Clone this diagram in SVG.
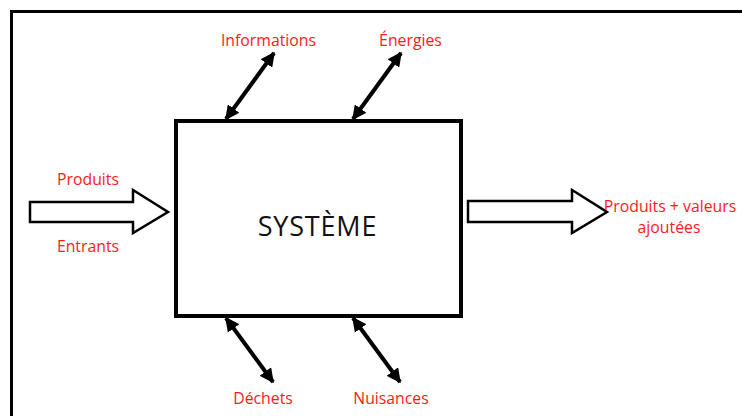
<svg xmlns="http://www.w3.org/2000/svg" width="742" height="416" viewBox="0 0 742 416">
<defs>
<style>
.lbl{font-family:"Open Sans","Liberation Sans",sans-serif;font-size:15.8px;fill:#ff1a1a;text-anchor:middle}
.sys{font-family:"Open Sans","Liberation Sans",sans-serif;font-size:27px;letter-spacing:0.8px;fill:#111;text-anchor:middle}
.dbl{stroke:#000;stroke-width:4;fill:none;marker-start:url(#ah);marker-end:url(#ah)}
.blk{fill:#fff;stroke:#000;stroke-width:2.5;stroke-linejoin:miter}
</style>
<marker id="ah" viewBox="0 0 10 10" refX="9" refY="5" markerWidth="3.6" markerHeight="3.6" orient="auto-start-reverse" markerUnits="strokeWidth">
<path d="M0,0 L10,5 L0,10 z" fill="#000"/>
</marker>
</defs>
<rect width="742" height="416" fill="#fff"/>
<rect x="11.5" y="11.5" width="740" height="420" fill="none" stroke="#000" stroke-width="3"/>
<g id="systeme">
<rect x="176" y="121" width="285" height="195" fill="#fff" stroke="#000" stroke-width="4"/>
<text class="sys" x="317.5" y="236">SYSTÈME</text>
</g>
<g id="produits-entrants">
<text class="lbl" x="88" y="185">Produits</text>
<text class="lbl" x="88" y="252">Entrants</text>
</g>
<g id="informations"><text class="lbl" x="268.5" y="46">Informations</text></g>
<g id="energies"><text class="lbl" x="410.5" y="46">Énergies</text></g>
<g id="dechets"><text class="lbl" x="263" y="404">Déchets</text></g>
<g id="nuisances"><text class="lbl" x="391" y="404">Nuisances</text></g>
<g id="produits-valeurs">
<text class="lbl" x="670" y="212">Produits + valeurs</text>
<text class="lbl" x="669" y="233">ajoutées</text>
</g>
<g id="connectors">
<path class="blk" d="M30,202 L133,202 L133,190 L168,212 L133,233 L133,222 L30,222 Z"/>
<path class="blk" d="M468,201 L572,201 L572,190 L607,212 L572,233 L572,222 L468,222 Z"/>
<line class="dbl" x1="226" y1="119" x2="274" y2="53"/>
<line class="dbl" x1="353" y1="119" x2="401" y2="53"/>
<line class="dbl" x1="226" y1="318" x2="273" y2="382"/>
<line class="dbl" x1="353" y1="318" x2="400" y2="382"/>
</g>
</svg>
